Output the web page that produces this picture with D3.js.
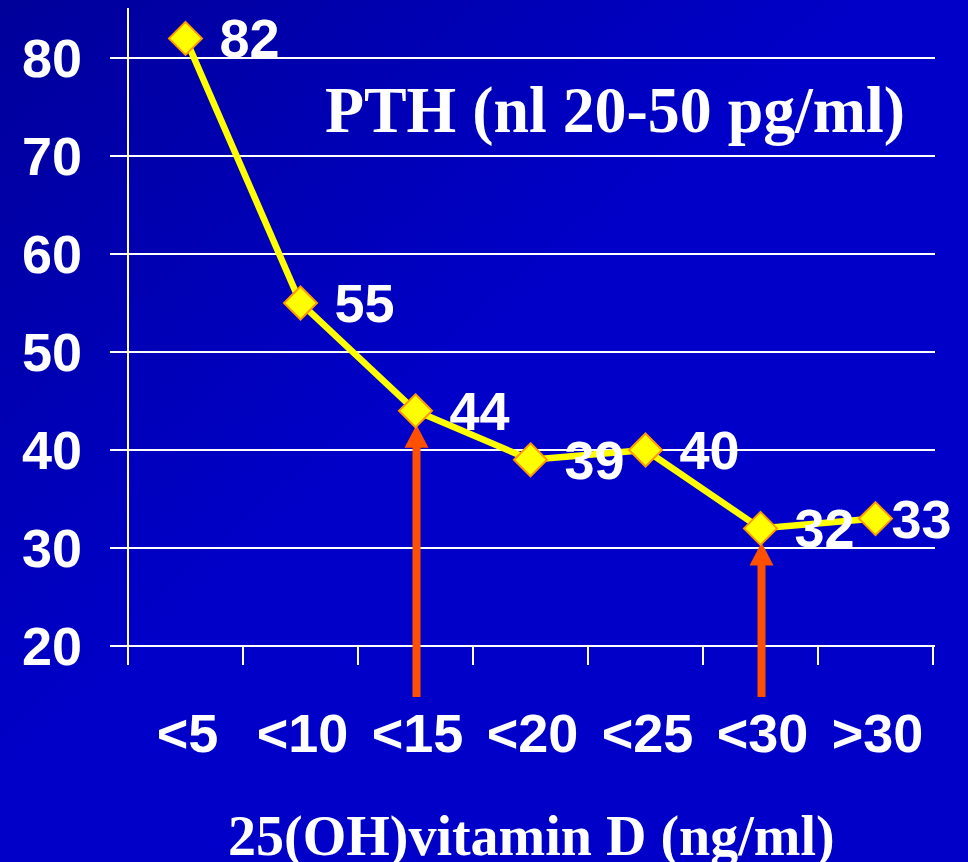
<!DOCTYPE html>
<html>
<head>
<meta charset="utf-8">
<script src="https://cdn.jsdelivr.net/npm/d3@7"></script>
<style>
  html, body { margin: 0; padding: 0; background: #0000c8; }
  svg { display: block; }
</style>
</head>
<body>
<div class="chart"></div>
<script>
// data
var categories = ["<5", "<10", "<15", "<20", "<25", "<30", ">30"];
var pth = [82, 55, 44, 39, 40, 32, 33];
var yTicks = [20, 30, 40, 50, 60, 70, 80];
var arrowCats = ["<15", "<30"];

var width = 968, height = 862;

var svg = d3.select(".chart").append("svg")
  .attr("width", width)
  .attr("height", height);

// background gradient, darker top-left corner
var defs = svg.append("defs");
var grad = defs.append("linearGradient")
  .attr("id", "bg")
  .attr("x1", "0%").attr("y1", "0%")
  .attr("x2", "45%").attr("y2", "45%");
grad.append("stop").attr("offset", "0%").attr("stop-color", "#00009a");
grad.append("stop").attr("offset", "100%").attr("stop-color", "#0000c8");
svg.append("rect").attr("width", width).attr("height", height).attr("fill", "url(#bg)");

// scales
var x = d3.scaleBand().domain(categories).range([128, 933]);
var y = d3.scaleLinear().domain([20, 85.1]).range([646, 8]);

var white = "#ffffff";

// gridlines
svg.append("g")
  .selectAll("line")
  .data(yTicks)
  .enter()
  .append("line")
  .attr("x1", 110)
  .attr("x2", 935)
  .attr("y1", d => y(d))
  .attr("y2", d => y(d))
  .attr("stroke", white)
  .attr("stroke-width", 2);

// y axis line
svg.append("line")
  .attr("x1", 128).attr("x2", 128)
  .attr("y1", y.range()[1]).attr("y2", 665)
  .attr("stroke", white)
  .attr("stroke-width", 2);

// x ticks at band edges
var edges = categories.map(c => x(c)).concat([x.range()[1]]);
svg.append("g")
  .selectAll("line")
  .data(edges.slice(1))
  .enter()
  .append("line")
  .attr("x1", d => d).attr("x2", d => d)
  .attr("y1", y(20)).attr("y2", 665)
  .attr("stroke", white)
  .attr("stroke-width", 2);

// y tick labels
svg.append("g")
  .selectAll("text")
  .data(yTicks)
  .enter()
  .append("text")
  .attr("x", 82)
  .attr("y", d => y(d) + 19)
  .attr("text-anchor", "end")
  .attr("fill", white)
  .style("font", "bold 54px 'Liberation Sans', Arial, sans-serif")
  .text(d => d);

// x labels
svg.append("g")
  .selectAll("text")
  .data(categories)
  .enter()
  .append("text")
  .attr("x", d => x(d) + x.bandwidth() / 2 + 2)
  .attr("y", 752)
  .attr("text-anchor", "middle")
  .attr("fill", white)
  .style("font", "bold 54px 'Liberation Sans', Arial, sans-serif")
  .text(d => d);

// line
var cx = d => x(d) + x.bandwidth() / 2;
var line = d3.line()
  .x((d, i) => cx(categories[i]))
  .y(d => y(d));

svg.append("path")
  .datum(pth)
  .attr("d", line)
  .attr("fill", "none")
  .attr("stroke", "#ffff00")
  .attr("stroke-width", 6.5)
  .attr("stroke-linejoin", "round");

// arrows
var arrowColor = "#ff5000";
var arrows = svg.append("g")
  .selectAll("g")
  .data(arrowCats)
  .enter()
  .append("g")
  .attr("transform", d => {
    var i = categories.indexOf(d);
    return "translate(" + (cx(d) + 1) + "," + (y(pth[i]) + 14) + ")";
  });
arrows.append("rect")
  .attr("x", -4)
  .attr("y", 18)
  .attr("width", 8)
  .attr("height", d => 697 - (y(pth[categories.indexOf(d)]) + 14) - 18);
arrows.append("path")
  .attr("d", "M0,0 L12,23 L-12,23 Z");
arrows.attr("fill", arrowColor);

// markers
svg.append("g")
  .selectAll("path")
  .data(pth)
  .enter()
  .append("path")
  .attr("transform", (d, i) => "translate(" + cx(categories[i]) + "," + y(d) + ")")
  .attr("d", "M0,-16.5 L16.5,0 L0,16.5 L-16.5,0 Z")
  .attr("fill", "#ffff00")
  .attr("stroke", "#ff9900")
  .attr("stroke-width", 2);

// value labels
svg.append("g")
  .selectAll("text")
  .data(pth)
  .enter()
  .append("text")
  .attr("x", (d, i) => cx(categories[i]) + (i === pth.length - 1 ? 16 : 34))
  .attr("y", d => y(d) + 19)
  .attr("fill", white)
  .style("font", "bold 54px 'Liberation Sans', Arial, sans-serif")
  .text(d => d);

// title
svg.append("text")
  .attr("x", 325)
  .attr("y", 132)
  .attr("fill", white)
  .attr("textLength", 580)
  .attr("lengthAdjust", "spacingAndGlyphs")
  .style("font", "bold 66px 'Liberation Serif', 'Times New Roman', serif")
  .text("PTH (nl 20-50 pg/ml)");

// x axis title
svg.append("text")
  .attr("x", 228)
  .attr("y", 855)
  .attr("fill", white)
  .style("font", "bold 56px 'Liberation Serif', 'Times New Roman', serif")
  .text("25(OH)vitamin D (ng/ml)");
</script>
</body>
</html>
